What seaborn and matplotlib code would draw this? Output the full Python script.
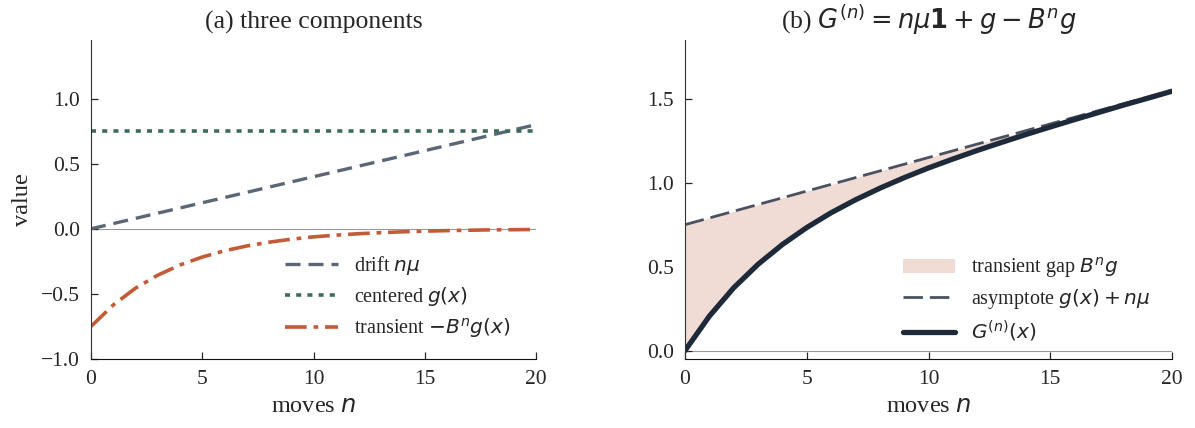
import numpy as np
import pandas as pd
import seaborn as sns
import matplotlib.pyplot as plt

# moves n
moves = list(range(21))
# drift n*mu
drift = [0.00, 0.04, 0.08, 0.12, 0.16, 0.20, 0.24, 0.28, 0.32, 0.36, 0.40,
         0.44, 0.48, 0.52, 0.56, 0.60, 0.64, 0.68, 0.72, 0.76, 0.80]
# centered g(x)
centered = [0.75] * 21
# transient -B^n g(x)
transient = [-0.750, -0.585, -0.456, -0.356, -0.278, -0.217, -0.169, -0.132,
             -0.103, -0.080, -0.062, -0.049, -0.038, -0.030, -0.023, -0.018,
             -0.014, -0.011, -0.008, -0.007, -0.005]
# asymptote g(x) + n*mu
asymptote = [0.75, 0.79, 0.83, 0.87, 0.91, 0.95, 0.99, 1.03, 1.07, 1.11, 1.15,
             1.19, 1.23, 1.27, 1.31, 1.35, 1.39, 1.43, 1.47, 1.51, 1.55]
# G^(n)(x)
G = [0.000, 0.205, 0.374, 0.514, 0.632, 0.733, 0.821, 0.898, 0.967, 1.030,
     1.088, 1.141, 1.192, 1.240, 1.287, 1.332, 1.376, 1.419, 1.462, 1.503, 1.545]

df = pd.DataFrame({"n": moves, "drift": drift, "centered": centered,
                   "transient": transient, "asym": asymptote, "G": G})

sns.set_style("ticks")
plt.rcParams['font.family'] = ['Liberation Serif', 'DejaVu Serif']
plt.rcParams['mathtext.fontset'] = 'dejavusans'
plt.rcParams['xtick.direction'] = 'in'
plt.rcParams['ytick.direction'] = 'in'

fig = plt.figure(figsize=(11.95, 4.28), dpi=100)
ax1 = fig.add_axes([91/1195, 69/428, 445/1195, 319/428])
ax2 = fig.add_axes([685/1195, 69/428, 487/1195, 319/428])

leg_kw = dict(frameon=False, fontsize=14.5, handlelength=2.6,
              handletextpad=0.8, loc='upper left')

# (a) three components
ax1.axhline(0, color='#9a9a9a', lw=0.8, zorder=0)
sns.lineplot(data=df, x="n", y="drift", ax=ax1, color='#5b6676', lw=2.4,
             label=r"drift $n\mu$")
ax1.lines[-1].set_dashes([4.5, 2.4])
sns.lineplot(data=df, x="n", y="centered", ax=ax1, color='#3e6b5a', lw=2.6,
             label=r"centered $g(x)$")
ax1.lines[-1].set_dashes([1.4, 1.7])
sns.lineplot(data=df, x="n", y="transient", ax=ax1, color='#c25b38', lw=2.6,
             label=r"transient $-B^n g(x)$")
ax1.lines[-1].set_dashes([6, 1.9, 1.3, 1.9])
ax1.set_xlim(0, 20)
ax1.set_ylim(-1.0, 1.45)
ax1.set_xticks([0, 5, 10, 15, 20])
ax1.set_yticks([-1.0, -0.5, 0.0, 0.5, 1.0])
ax1.set_xlabel(r"moves $n$", fontsize=17.5, labelpad=5)
ax1.set_ylabel("value", fontsize=17.5, labelpad=6)
ax1.set_title("(a) three components", fontsize=18.5, pad=8)
ax1.legend(bbox_to_anchor=(0.396, 0.385), labelspacing=0.4, **leg_kw)

# (b) G^(n)
ax2.axhline(0, color='#9a9a9a', lw=0.8, zorder=0)
ax2.fill_between(df["n"], df["G"], df["asym"], color='#f0dcd5', lw=0,
                 label=r"transient gap $B^n g$")
sns.lineplot(data=df, x="n", y="asym", ax=ax2, color='#4a5262', lw=2.0,
             label=r"asymptote $g(x) + n\mu$")
ax2.lines[-1].set_dashes([7, 2.5])
sns.lineplot(data=df, x="n", y="G", ax=ax2, color='#1e2a3a', lw=3.8,
             label=r"$G^{(n)}(x)$")
ax2.set_xlim(0, 20)
ax2.set_ylim(-0.05, 1.85)
ax2.set_xticks([0, 5, 10, 15, 20])
ax2.set_yticks([0.0, 0.5, 1.0, 1.5])
ax2.set_xlabel(r"moves $n$", fontsize=17.5, labelpad=5)
ax2.set_ylabel("")
ax2.set_title(r"(b) $G^{(n)} = n\mu\mathbf{1} + g - B^n g$", fontsize=18.5, pad=8)
ax2.legend(bbox_to_anchor=(0.41, 0.382), labelspacing=0.35, **leg_kw)

for ax in (ax1, ax2):
    sns.despine(ax=ax)
    ax.tick_params(labelsize=15.5, length=5, width=0.9, pad=8)
    ax.spines['left'].set_color('#333333')
    ax.spines['bottom'].set_color('#111111')

plt.savefig('out.png', dpi=100)
